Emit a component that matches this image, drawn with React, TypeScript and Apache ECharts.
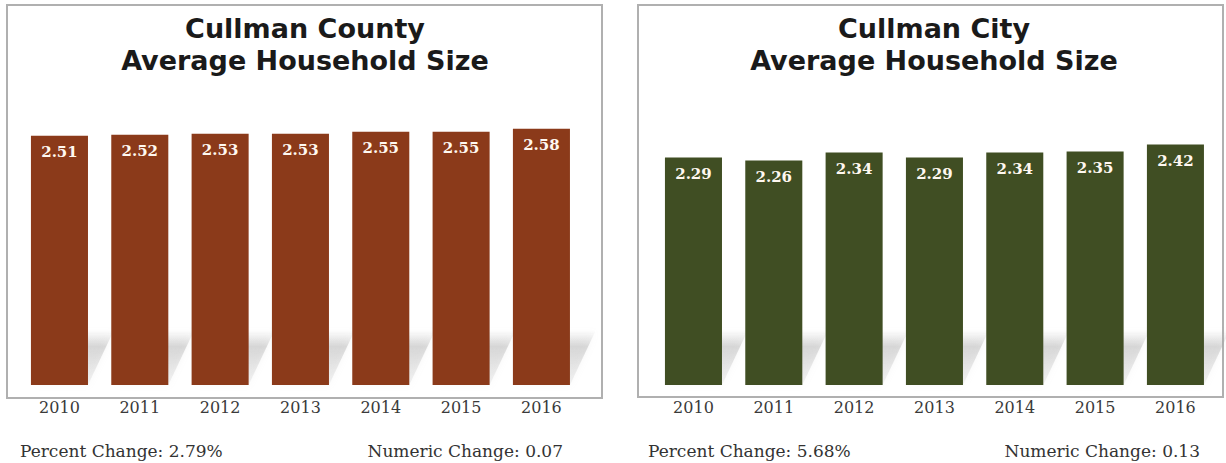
import React, { useEffect, useRef } from "react";
import * as echarts from "echarts";

const years = ["2010", "2011", "2012", "2013", "2014", "2015", "2016"];
const countyValues = [2.51, 2.52, 2.53, 2.53, 2.55, 2.55, 2.58];
const cityValues = [2.29, 2.26, 2.34, 2.29, 2.34, 2.35, 2.42];
const panelTitles = ["Cullman County\nAverage Household Size", "Cullman City\nAverage Household Size"];
const percentChanges = ["Percent Change: 2.79%", "Percent Change: 5.68%"];
const numericChanges = ["Numeric Change: 0.07", "Numeric Change: 0.13"];

const SERIF = "'DejaVu Serif', serif";
const SANS = "'DejaVu Sans', 'Liberation Sans', Arial, sans-serif";
const COLORS = ["#8b3a1a", "#404e23"];

function shadowItem(params: any, api: any) {
  const idx = api.value(0);
  const base = api.coord([idx, 0]);
  const band = api.size([1, 0])[0];
  const bw = band * 0.71;
  const xL = base[0] - bw / 2;
  const xR = base[0] + bw / 2;
  const y = base[1];
  const dx = 26;
  const h = 55;
  return {
    type: "polygon",
    shape: {
      points: [
        [xL + 6, y],
        [xR, y],
        [xR + dx, y - h],
        [xL + dx, y - h],
      ],
    },
    style: {
      fill: new echarts.graphic.LinearGradient(0, 0, 0, 1, [
        { offset: 0, color: "rgba(180,180,180,0)" },
        { offset: 0.3, color: "rgba(165,165,165,0.38)" },
        { offset: 1, color: "rgba(200,200,200,0.2)" },
      ]),
      shadowBlur: 6,
      shadowColor: "rgba(170,170,170,0.35)",
    },
  };
}

export default function App() {
  const ref = useRef<HTMLDivElement>(null);
  useEffect(() => {
    if (!ref.current) return;
    const chart = echarts.init(ref.current, undefined, { renderer: "svg" });
    const grids = [
      { left: 19.3, width: 562.3, top: 87, height: 298 },
      { left: 653.3, width: 562.3, top: 87, height: 298 },
    ];
    const datasets = [countyValues, cityValues];
    const series: any[] = [];
    datasets.forEach((vals, i) => {
      series.push({
        type: "custom",
        xAxisIndex: i,
        yAxisIndex: i,
        renderItem: shadowItem,
        data: vals.map((v, k) => [k, v]),
        encode: { x: 0, y: 1 },
        z: 1,
        silent: true,
      });
      series.push({
        type: "bar",
        xAxisIndex: i,
        yAxisIndex: i,
        data: vals,
        barWidth: "71%",
        z: 2,
        itemStyle: { color: COLORS[i] },
        label: {
          show: true,
          position: "insideTop",
          distance: 9,
          color: "#fff8f0",
          fontFamily: SERIF,
          fontWeight: "bold",
          fontSize: 15,
          formatter: (p: any) => p.value.toFixed(2),
        },
      });
    });
    const panels = [
      { x: 7, y: 5, w: 595, h: 393, cx: 305, pl: 20, pr: 563 },
      { x: 638, y: 5, w: 585, h: 392, cx: 934, pl: 648, pr: 1200 },
    ];
    const graphic: any[] = [];
    panels.forEach((p, i) => {
      graphic.push({
        type: "rect",
        shape: { x: p.x, y: p.y, width: p.w, height: p.h },
        style: { fill: "none", stroke: "#b0b0b0", lineWidth: 2 },
        z: -1,
      });
      graphic.push({
        type: "text",
        x: p.cx,
        y: 12,
        style: {
          text: panelTitles[i],
          align: "center",
          verticalAlign: "top",
          font: `bold 27px ${SANS}`,
          lineHeight: 32,
          fill: "#1a1a1a",
        },
      });
      graphic.push({
        type: "text",
        x: p.pl,
        y: 451,
        style: {
          text: percentChanges[i],
          align: "left",
          verticalAlign: "middle",
          font: `17px ${SERIF}`,
          fill: "#333333",
        },
      });
      graphic.push({
        type: "text",
        x: p.pr,
        y: 451,
        style: {
          text: numericChanges[i],
          align: "right",
          verticalAlign: "middle",
          font: `17px ${SERIF}`,
          fill: "#333333",
        },
      });
    });
    chart.setOption({
      animation: false,
      backgroundColor: "#ffffff",
      grid: grids,
      xAxis: grids.map((_, i) => ({
        type: "category",
        gridIndex: i,
        data: years,
        axisLine: { show: false },
        axisTick: { show: false },
        axisLabel: {
          margin: 14,
          color: "#3a3a3a",
          fontFamily: SERIF,
          fontSize: 16,
        },
      })),
      yAxis: grids.map((_, i) => ({
        type: "value",
        gridIndex: i,
        min: 0,
        max: 3,
        show: false,
      })),
      series,
      graphic,
    });
    return () => chart.dispose();
  }, []);
  return (
    <div
      ref={ref}
      style={{ position: "fixed", left: 0, top: 0, width: 1226, height: 463 }}
    />
  );
}
